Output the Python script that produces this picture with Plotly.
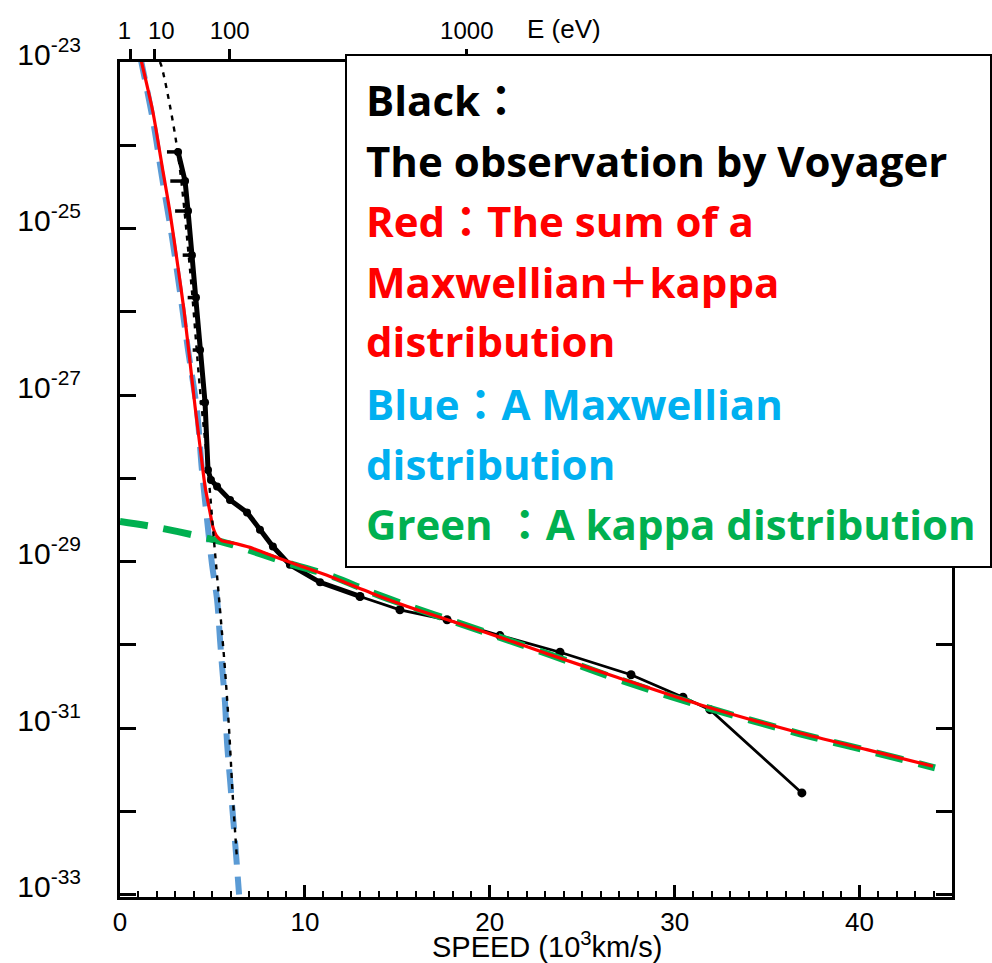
import numpy as np
import plotly.graph_objects as go

# ---- Voyager electron distribution (speed in 10^3 km/s, log10 of f) ----
obs_speed = [3.14, 3.52, 3.68, 3.89, 4.11, 4.33, 4.60, 4.76, 4.92, 5.25, 5.95, 6.87,
             7.57, 8.27, 9.19, 10.82, 12.98, 15.14, 17.69, 20.55, 23.80, 27.64,
             30.45, 31.91, 36.88]
obs_log_f = [-24.08, -24.43, -24.79, -25.32, -25.83, -26.46, -27.09, -27.90, -28.02,
             -28.10, -28.26, -28.41, -28.62, -28.82, -29.04, -29.25, -29.42, -29.58,
             -29.70, -29.89, -30.09, -30.36, -30.63, -30.78, -31.78]
# horizontal bars on the low-speed points (extent to the left, 10^3 km/s)
obs_bar_left = [0.60, 0.80, 0.70, 0.50, 0.45, 0.40, 0.30, 0.20, 0, 0, 0, 0, 0, 0, 0,
                0, 0, 0, 0, 0, 0, 0, 0, 0, 0]

# dotted reference curve of the original figure
ref_speed = [2.16, 2.27, 3.08, 3.79, 4.33, 4.76, 5.08, 5.41, 5.68, 5.90, 6.11, 6.33]
ref_log_f = [-23.0, -23.07, -24.02, -25.50, -26.94, -27.90, -28.74, -29.58, -30.30,
             -31.02, -31.86, -32.58]

# Maxwellian component (blue)
mx_speed = [1.08, 1.78, 2.27, 2.81, 3.25, 3.68, 4.16, 4.43, 4.71, 4.98, 5.25, 5.41,
            5.52, 5.68, 5.79, 5.95, 6.11, 6.27, 6.44]
mx_log_f = [-22.92, -23.70, -24.38, -25.10, -25.77, -26.46, -27.18, -27.90, -28.50,
            -29.04, -29.46, -29.94, -30.26, -30.70, -31.18, -31.62, -32.06, -32.50, -33.0]

# Maxwellian + kappa (red)
sum_speed = [1.08, 1.78, 2.33, 2.70, 3.14, 3.46, 3.79, 4.06, 4.33, 4.60, 4.87, 5.03,
             5.25, 5.52, 5.95, 7.03, 7.73, 9.57, 11.36, 14.06, 16.06, 19.63, 23.26,
             26.88, 31.37, 36.78, 40.40, 43.97]
sum_log_f = [-22.92, -23.60, -24.32, -24.80, -25.47, -25.98, -26.61, -27.14, -27.62,
             -28.10, -28.41, -28.59, -28.70, -28.75, -28.77, -28.83, -28.89, -29.04,
             -29.18, -29.42, -29.58, -29.84, -30.12, -30.39, -30.72, -31.06, -31.26,
             -31.46]

# kappa component (green)
kappa_speed = [0.0, 2.0, 4.33, 6.11, 8.82, 11.36, 14.06, 19.63, 23.26, 26.88, 31.37,
               36.78, 40.40, 44.08]
kappa_log_f = [-28.52, -28.59, -28.70, -28.80, -29.00, -29.17, -29.41, -29.84, -30.12,
               -30.41, -30.73, -31.07, -31.27, -31.48]

# top axis: electron energy in eV
energy_ev = [1, 10, 100, 1000]
energy_labels = ["1\u00a0\u00a0", "\u00a0\u00a010", "100", "1000"]

# y axis decades
decades = list(range(-33, -22))

legend_lines = ["Black：", "The observation by Voyager", "Red：The sum of a",
                "Maxwellian＋kappa", "distribution", "Blue：A Maxwellian",
                "distribution", "Green ：A kappa distribution"]
legend_colors = ["#000000", "#000000", "#FF0000", "#FF0000", "#FF0000",
                 "#00B0F0", "#00B0F0", "#00B050"]

# ---- helpers ----
def to_f(log_vals):
    return 10.0 ** np.asarray(log_vals, dtype=float)

M_E = 9.1093837e-31
EV = 1.602176634e-19
energy_speed = [np.sqrt(2 * e * EV / M_E) / 1e6 for e in energy_ev]  # 10^3 km/s

W, H = 992, 963
L, R, T, B = 120, 40, 62, 66
PW, PH = W - L - R, H - T - B


def px(x):
    return (x - L) / PW


def py(y):
    return (H - B - y) / PH


AX_FONT = "Liberation Sans, Arial, sans-serif"
TXT_FONT = "Open Sans, Noto Sans CJK JP, sans-serif"

fig = go.Figure()

# dotted reference curve (bound to the top energy axis, same speed range)
fig.add_trace(go.Scatter(
    x=ref_speed, y=to_f(ref_log_f), xaxis="x2", mode="lines",
    line=dict(color="black", width=2.4, dash="5px,6px", shape="spline"),
    hoverinfo="skip"))

# observed data: steep part + knee (thick), high-speed tail (thin)
n_thick = 17
fig.add_trace(go.Scatter(
    x=obs_speed[:n_thick], y=to_f(obs_log_f[:n_thick]), mode="lines+markers",
    line=dict(color="black", width=5),
    marker=dict(color="black", size=8),
    error_x=dict(type="data", symmetric=False, array=[0] * n_thick,
                 arrayminus=obs_bar_left[:n_thick], color="black", thickness=3.5, width=0)))
fig.add_trace(go.Scatter(
    x=obs_speed[n_thick - 1:], y=to_f(obs_log_f[n_thick - 1:]), mode="lines+markers",
    line=dict(color="black", width=2.8),
    marker=dict(color="black", size=9)))

# Maxwellian (blue dashed)
fig.add_trace(go.Scatter(
    x=mx_speed, y=to_f(mx_log_f), mode="lines",
    line=dict(color="#5B9BD5", width=6, dash="24px,12px", shape="spline")))

# kappa (green dashed)
fig.add_trace(go.Scatter(
    x=kappa_speed, y=to_f(kappa_log_f), mode="lines",
    line=dict(color="#00B050", width=7, dash="28px,16px", shape="spline")))

# Maxwellian + kappa (red)
fig.add_trace(go.Scatter(
    x=sum_speed, y=to_f(sum_log_f), mode="lines",
    line=dict(color="#FF0000", width=3.2, shape="spline", smoothing=0.6)))

ytext = ["10<sup>%d</sup>" % d if d % 2 else "" for d in decades]

fig.update_layout(
    width=W, height=H,
    margin=dict(l=L, r=R, t=T, b=B),
    paper_bgcolor="white", plot_bgcolor="white",
    showlegend=False,
    xaxis=dict(
        range=[0, 45], automargin=False, showline=True, linecolor="black", linewidth=3,
        ticks="inside", tick0=0, dtick=10, ticklen=12, tickwidth=2.5, tickcolor="black",
        minor=dict(dtick=1, ticks="inside", ticklen=6, tickwidth=2, tickcolor="black"),
        showgrid=False, zeroline=False, tickangle=0,
        tickfont=dict(family=AX_FONT, size=26, color="black"),
    ),
    xaxis2=dict(
        overlaying="x", side="top", range=[0, 45], automargin=False,
        showline=True, linecolor="black", linewidth=3,
        ticks="outside", ticklen=10, tickwidth=2.5, tickcolor="black",
        tickvals=energy_speed, ticktext=energy_labels, tickangle=0,
        showgrid=False, zeroline=False,
        tickfont=dict(family=AX_FONT, size=24, color="black"),
    ),
    yaxis=dict(
        type="log", range=[-33.03, -23.0], automargin=False,
        showline=True, linecolor="black", linewidth=3, mirror="ticks",
        ticks="inside", ticklen=16, tickwidth=2.5, tickcolor="black",
        tickvals=[10.0 ** d for d in decades], ticktext=ytext,
        showgrid=False, zeroline=False,
        ticklabelstandoff=30, ticklabelshift=-8,
        tickfont=dict(family=AX_FONT, size=30, color="black"),
    ),
)

# axis titles
fig.add_annotation(x=px(547), y=py(945), xref="paper", yref="paper",
                   xanchor="center", yanchor="middle", showarrow=False,
                   text="SPEED (10<sup>3</sup>km/s)",
                   font=dict(family=AX_FONT, size=29, color="black"))
fig.add_annotation(x=px(525), y=py(29), xref="paper", yref="paper",
                   xanchor="left", yanchor="middle", showarrow=False,
                   text="E (eV)", font=dict(family=AX_FONT, size=26, color="black"))

# key box
fig.add_shape(type="rect", xref="paper", yref="paper",
              x0=px(346), x1=px(991), y0=py(567), y1=py(55),
              line=dict(color="black", width=2), fillcolor="white", layer="above")

line_y = [100, 160, 220, 281, 341, 403, 463, 523]
for txt, col, yy in zip(legend_lines, legend_colors, line_y):
    fig.add_annotation(x=px(364), y=py(yy), xref="paper", yref="paper",
                       xanchor="left", yanchor="middle", showarrow=False,
                       text="<b>%s</b>" % txt,
                       font=dict(family=TXT_FONT, size=42, color=col))

fig.write_html("out.html")
